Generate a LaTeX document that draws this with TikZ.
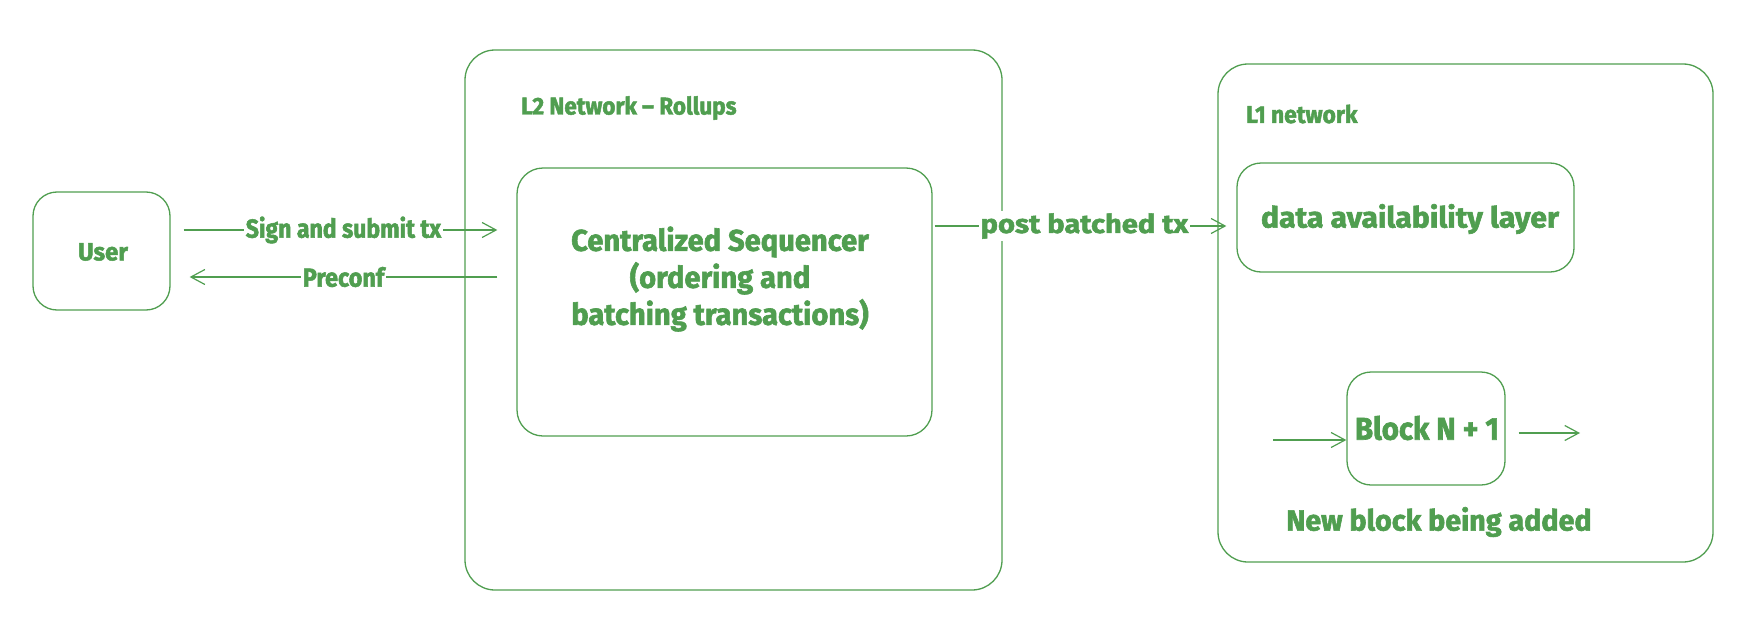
\documentclass[tikz,border=0pt]{standalone}
\usepackage{fontspec}
\setmainfont{Fira Sans}[BoldFeatures={FakeBold=2}]
\usetikzlibrary{arrows.meta}
\definecolor{grn}{RGB}{80,158,80}
\newcommand\tf[2]{\bfseries\fontsize{#1}{37}\selectfont\addfontfeatures{FakeStretch=#2}}
\tikzset{
  box/.style={draw=grn, line width=1.3pt, rounded corners=#1, inner sep=0pt},
  box/.default=24pt,
  lbl/.style={text=grn, inner sep=2pt},
  arr/.style={draw=grn, line width=1.2pt, -{Straight Barb[length=14pt,width=15pt,line width=1.2pt]}},
}
\begin{document}
\begin{tikzpicture}[x=1pt,y=-1pt]
\useasboundingbox (0,0) rectangle (1752,626);
% boxes
\node[box, minimum width=137pt, minimum height=118pt] (user) at (101.5,251) {};
\node[lbl, font=\tf{24.7}{0.97}] (usertxt) at (103,252) {User};
\node[box=30pt, minimum width=537pt, minimum height=540pt] (l2) at (733.5,320) {};
\node[lbl, anchor=west, font=\tf{24.2}{0.93}] (l2txt) at (519,108) {L2 Network -- Rollups};
\node[box=26pt, minimum width=415pt, minimum height=268pt] (seq) at (724.5,302) {};
\node[lbl, align=center, font=\tf{30}{0.97}] (seqtxt) at (720,279) {Centralized Sequencer\\(ordering and\\batching transactions)};
\node[box=30pt, minimum width=495pt, minimum height=498pt] (l1) at (1465.5,313) {};
\node[lbl, anchor=west, font=\tf{24.2}{0.94}] (l1txt) at (1244,114) {L1 network};
\node[box=24pt, minimum width=337pt, minimum height=109pt] (da) at (1405.5,217.5) {};
\node[lbl, font=\tf{29}{1.04}] (datxt) at (1410,219) {data availability layer};
\node[box=24pt, minimum width=158pt, minimum height=113pt] (block) at (1426,428.5) {};
\node[lbl, font=\tf{31.5}{0.935}] (blocktxt) at (1427,428) {Block N + 1};
\node[lbl, font=\tf{29}{0.99}] (newtxt) at (1439,522) {New block being added};
% connectors
\draw[arr, shorten <=13pt, shorten >=19pt] (user.east |- 0,230) -- node[lbl, fill=white, font=\tf{26}{0.886}] {Sign and submit tx} (seq.west |- 0,230);
\draw[arr, shorten <=19pt, shorten >=19pt] (seq.west |- 0,277) -- node[lbl, fill=white, font=\tf{26}{0.9}] {Preconf} (user.east |- 0,277);
\draw[arr, shorten <=2pt, shorten >=10pt] (seq.east |- 0,226) -- node[lbl, fill=white, font=\tf{26}{1.12}] {post batched tx} (da.west |- 0,226);
\coordinate (bin) at (1273,440);
\coordinate (bout) at (1580,433);
\draw[arr] (bin) -- (block.west |- bin);
\draw[arr, shorten <=13pt] (block.east |- bout) -- (bout);
\end{tikzpicture}
\end{document}
